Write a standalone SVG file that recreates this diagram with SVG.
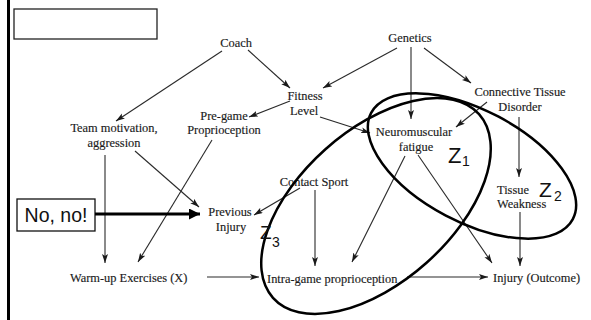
<svg xmlns="http://www.w3.org/2000/svg" width="591" height="320" viewBox="0 0 591 320">
<defs>
<style>
.t{font-family:"Liberation Serif","Times New Roman",serif;font-size:12.4px;fill:#1a1a1a;stroke:#1a1a1a;stroke-width:0.15}
.m{text-anchor:middle}
.z{font-family:"Liberation Sans",Arial,sans-serif;fill:#111}
.e{fill:none;stroke:#000;stroke-width:2.5}
#edges line{stroke:#2a2a2a;stroke-width:1.1;marker-end:url(#ah)}
</style>
<marker id="ah" markerUnits="userSpaceOnUse" markerWidth="10" markerHeight="8" refX="9" refY="3" orient="auto">
<path d="M0,0 L9,3 L0,6 L2,3 z" fill="#1a1a1a"/>
</marker>
<marker id="bh" markerUnits="userSpaceOnUse" markerWidth="12" markerHeight="12" refX="11" refY="5.5" orient="auto">
<path d="M0,0 L11,5.5 L0,11 z" fill="#000"/>
</marker>
</defs>
<rect width="591" height="320" fill="#fff"/>
<line x1="8.5" y1="0" x2="8.5" y2="320" stroke="#000" stroke-width="3"/>
<rect x="14" y="9" width="143" height="30" fill="none" stroke="#222" stroke-width="1.3"/>

<g id="edges">
<line x1="222" y1="51" x2="116" y2="121"/>
<line x1="248" y1="50" x2="290" y2="88"/>
<line x1="290" y1="101" x2="249" y2="117"/>
<line x1="397" y1="48" x2="323" y2="88"/>
<line x1="411" y1="47" x2="411" y2="119"/>
<line x1="424" y1="48" x2="471" y2="83"/>
<line x1="320" y1="117" x2="370" y2="133"/>
<line x1="487" y1="102" x2="456" y2="127"/>
<line x1="519" y1="117" x2="519" y2="177"/>
<line x1="520" y1="212" x2="520" y2="266"/>
<line x1="405" y1="156" x2="352" y2="262"/>
<line x1="418" y1="155" x2="492" y2="263"/>
<line x1="315" y1="190" x2="315" y2="266"/>
<line x1="300" y1="188" x2="254" y2="215"/>
<line x1="105" y1="155" x2="105" y2="263"/>
<line x1="135" y1="151" x2="199" y2="207"/>
<line x1="212" y1="140" x2="138" y2="262"/>
<line x1="207" y1="277" x2="259" y2="277"/>
<line x1="407" y1="277" x2="488" y2="277"/>
</g>

<g id="coach"><text class="t m" x="236" y="47">Coach</text></g>
<g id="genetics"><text class="t m" x="410" y="42">Genetics</text></g>
<g id="fitness"><text class="t m" x="305" y="100">Fitness</text><text class="t m" x="304" y="115">Level</text></g>
<g id="pregame"><text class="t m" x="224" y="120">Pre-game</text><text class="t m" x="224" y="134">Proprioception</text></g>
<g id="team"><text class="t m" x="114" y="132">Team motivation,</text><text class="t m" x="114" y="147">aggression</text></g>
<g id="connective"><text class="t m" x="520" y="96">Connective Tissue</text><text class="t m" x="520" y="111">Disorder</text></g>
<g id="neuromuscular"><text class="t m" x="414" y="136">Neuromuscular</text><text class="t m" x="416" y="151">fatigue</text></g>
<g id="tissue"><text class="t" x="497" y="194">Tissue</text><text class="t" x="497" y="208">Weakness</text></g>
<g id="contact"><text class="t m" x="314" y="186">Contact Sport</text></g>
<g id="previous"><text class="t m" x="230" y="216">Previous</text><text class="t m" x="231" y="231">Injury</text></g>
<g id="warmup"><text class="t" x="70" y="282">Warm-up Exercises (X)</text></g>
<g id="intragame"><text class="t" x="267" y="283">Intra-game proprioception</text></g>
<g id="outcome"><text class="t" x="493" y="282">Injury (Outcome)</text></g>

<g id="z3set"><ellipse class="e" cx="376" cy="206" rx="138" ry="76" transform="rotate(-41.7 376 206)"/></g>
<g id="z2set"><ellipse class="e" cx="472" cy="166" rx="114" ry="56" transform="rotate(27.8 472 166)"/></g>

<g id="z1"><text class="z" x="448" y="163" font-size="22">Z</text><text class="z" x="462" y="166" font-size="14">1</text></g>
<g id="z2"><text class="z" x="539" y="197" font-size="21">Z</text><text class="z" x="554" y="201" font-size="14">2</text></g>
<g id="z3"><text class="z" x="260" y="239" font-size="19">Z</text><text class="z" x="272" y="247" font-size="14">3</text></g>

<g id="nono">
<rect x="17" y="199" width="78" height="32" fill="#fff" stroke="#111" stroke-width="1.3"/>
<text class="z" x="56" y="222" font-size="19.5" text-anchor="middle">No, no!</text>
</g>
<g id="bigarrow"><line x1="95" y1="214" x2="200" y2="214" stroke="#000" stroke-width="3" marker-end="url(#bh)"/></g>
</svg>
